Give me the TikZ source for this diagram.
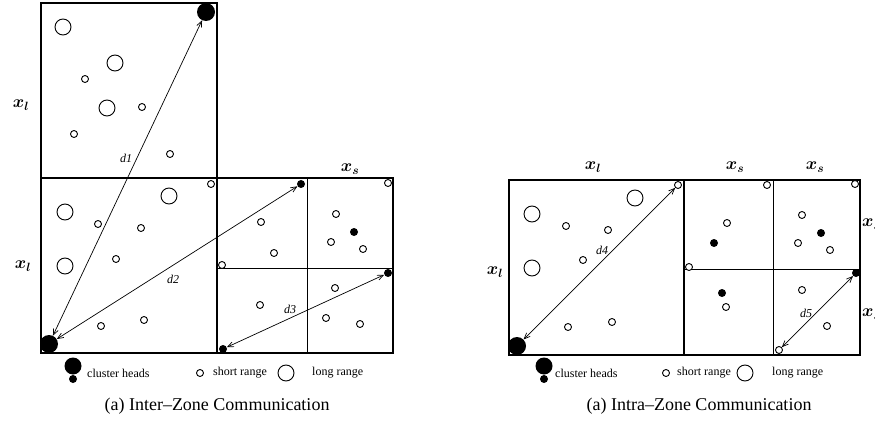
\documentclass[tikz,border=0pt]{standalone}
\usepackage{fontspec}
\setmainfont{Liberation Serif}
\usetikzlibrary{arrows.meta}
\begin{document}
\begin{tikzpicture}[x=1pt,y=-1pt,
  big/.style={circle,draw,line width=0.9pt,minimum size=16pt,inner sep=0pt},
  sml/.style={circle,draw,line width=0.9pt,minimum size=7pt,inner sep=0pt,fill=white},
  dot/.style={circle,fill,minimum size=8pt,inner sep=0pt},
  head/.style={circle,fill,minimum size=18pt,inner sep=0pt},
  thick box/.style={line width=2pt},
  thin div/.style={line width=0.8pt},
  link/.style={line width=0.7pt,{Straight Barb[length=6pt,width=5pt]}-{Straight Barb[length=6pt,width=5pt]}},
  dlab/.style={font=\fontsize{12}{12}\selectfont\itshape,inner sep=1pt},
  axis/.style={font=\fontsize{17}{17}\selectfont\boldmath,inner sep=0pt},
  leg/.style={font=\fontsize{12}{12}\selectfont,inner sep=0pt,anchor=west},
  captxt/.style={font=\fontsize{18}{18}\selectfont,inner sep=0pt}]
\useasboundingbox (0,0) rectangle (875,422);

% ===== Left figure: boxes =====
\draw[thick box] (41,178) -- (41,3) -- (217,3) -- (217,178);
\draw[line width=2.6pt] (41,178) -- (393,178);
\draw[thick box] (41,178) rectangle (217,353);
\draw[thick box] (217,178) rectangle (393,353);
\draw[thin div] (307,178) -- (307,353);
\draw[thin div] (217,268) -- (393,268);

% top square nodes
\node[big] (a1) at (63,27) {};
\node[big] (a2) at (115,63) {};
\node[big] (a3) at (107,108) {};
\node[sml] (a4) at (85,79) {};
\node[sml] (a5) at (142,107) {};
\node[sml] (a6) at (74,134) {};
\node[sml] (a7) at (170,154) {};
\node[head] (ch1) at (206,12) {};

% bottom-left square nodes
\node[big] (b1) at (65,212) {};
\node[big] (b2) at (65,266) {};
\node[big] (b3) at (169,196) {};
\node[sml] (b4) at (98,224) {};
\node[sml] (b5) at (141,228) {};
\node[sml] (b6) at (116,259) {};
\node[sml] (b7) at (101,326) {};
\node[sml] (b8) at (144,320) {};
\node[sml] (b9) at (211,184) {};
\node[head] (ch0) at (49,344) {};

% right block nodes
\node[dot] (c1) at (301,184) {};
\node[sml] (c2) at (261,222) {};
\node[sml] (c3) at (274,253) {};
\node[sml] (c4) at (222,265) {};
\node[sml] (c5) at (260,305) {};
\node[sml] (c6) at (388,183) {};
\node[sml] (c7) at (336,214) {};
\node[sml] (c8) at (331,242) {};
\node[sml] (c9) at (363,249) {};
\node[sml] (c10) at (335,288) {};
\node[sml] (c11) at (326,318) {};
\node[sml] (c12) at (360,324) {};
\node[dot] (c13) at (354,232) {};
\node[dot] (c14) at (388,273) {};
\node[dot] (c15) at (223,349) {};

% arrows
\draw[link] (ch0) -- (ch1);
\draw[link] (ch0) -- (c1);
\draw[link] (c15) -- (c14);
\node[dlab] (d1) at (126,158) {d1};
\node[dlab] (d2) at (173,279) {d2};
\node[dlab] (d3) at (290,309) {d3};

% axis labels
\node[axis] (xl1) at (21,105) {$x_l$};
\node[axis] (xl2) at (23,266) {$x_l$};
\node[axis] (xs1) at (350,169) {$x_s$};

% legend
\node[head,minimum size=17pt] (lh1) at (73,366) {};
\node[dot] (lh2) at (73,379) {};
\node[leg] (lt1) at (87,373) {cluster heads};
\node[sml] (ls1) at (200,373) {};
\node[leg] (lt2) at (213,373) {short range};
\node[big] (lb1) at (286,373) {};
\node[leg] (lt3) at (312,373) {long range};
\node[captxt] (cap1) at (217,406) {(a) Inter--Zone Communication};

% ===== Right figure: boxes =====
\draw[thick box] (509,180) rectangle (684,355);
\draw[thick box] (684,180) rectangle (860,355);
\draw[thin div] (773,180) -- (773,355);
\draw[thin div] (684,269) -- (860,269);

\node[big] (e1) at (532,214) {};
\node[big] (e2) at (532,268) {};
\node[big] (e3) at (635,198) {};
\node[sml] (e4) at (566,226) {};
\node[sml] (e5) at (608,230) {};
\node[sml] (e6) at (583,260) {};
\node[sml] (e7) at (568,327) {};
\node[sml] (e8) at (612,322) {};
\node[sml] (e9) at (678,185) {};
\node[head] (ch2) at (517,346) {};

\node[sml] (f1) at (767,185) {};
\node[sml] (f2) at (727,223) {};
\node[sml] (f3) at (689,267) {};
\node[dot] (f4) at (714,243) {};
\node[dot] (f5) at (722,293) {};
\node[sml] (f6) at (726,307) {};
\node[sml] (f7) at (855,184) {};
\node[sml] (f8) at (802,215) {};
\node[sml] (f9) at (798,243) {};
\node[sml] (f10) at (830,250) {};
\node[sml] (f11) at (802,290) {};
\node[sml] (f12) at (827,326) {};
\node[sml] (f13) at (779,350) {};
\node[dot] (f14) at (821,233) {};
\node[dot] (f15) at (856,273) {};

\draw[link] (ch2) -- (e9);
\draw[link] (f13) -- (f15);
\node[dlab] (d4) at (602,250) {d4};
\node[dlab] (d5) at (806,313) {d5};

\node[axis] (xl3) at (593,167) {$x_l$};
\node[axis] (xl4) at (495,272) {$x_l$};
\node[axis] (xs2) at (735,167) {$x_s$};
\node[axis] (xs3) at (815,167) {$x_s$};
\node[axis,anchor=west] (xs4) at (862,224) {$x_s$};
\node[axis,anchor=west] (xs5) at (862,314) {$x_s$};

\node[head,minimum size=17pt] (lh3) at (544,366) {};
\node[dot] (lh4) at (544,379) {};
\node[leg] (lt4) at (555,373) {cluster heads};
\node[sml] (ls2) at (666,373) {};
\node[leg] (lt5) at (677,373) {short range};
\node[big] (lb2) at (745,373) {};
\node[leg] (lt6) at (772,373) {long range};
\node[captxt] (cap2) at (699,406) {(a) Intra--Zone Communication};
\end{tikzpicture}
\end{document}
